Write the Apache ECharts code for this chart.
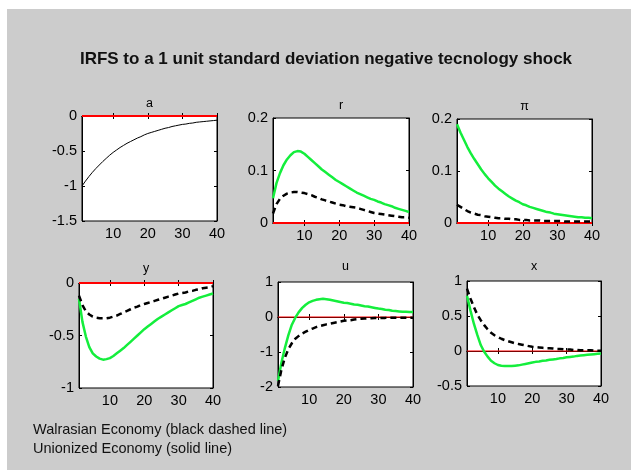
<!DOCTYPE html>
<html>
<head>
<meta charset="utf-8">
<script src="https://cdn.jsdelivr.net/npm/echarts@6/dist/echarts.min.js"></script>
<style>
  html, body { margin: 0; padding: 0; background: #fff; }
  #bg { position: absolute; left: 7px; top: 9px; width: 624px; height: 461px; background: #cccccc; }
  #main { position: absolute; left: 0; top: 0; width: 631px; height: 470px; }
</style>
</head>
<body>
<div id="bg"></div>
<div id="main"></div>
<script>
// horizon 1..40
const periods = [1, 2, 3, 4, 5, 6, 7, 8, 9, 10, 11, 12, 13, 14, 15, 16, 17, 18, 19, 20,
  21, 22, 23, 24, 25, 26, 27, 28, 29, 30, 31, 32, 33, 34, 35, 36, 37, 38, 39, 40];
const xTicks = [10, 20, 30, 40];

// a: technology shock
const aShock = [-1, -0.93, -0.865, -0.805, -0.75, -0.70, -0.65, -0.605, -0.56, -0.52,
  -0.485, -0.45, -0.42, -0.39, -0.365, -0.34, -0.315, -0.295, -0.27, -0.25,
  -0.235, -0.22, -0.205, -0.19, -0.175, -0.165, -0.15, -0.14, -0.13, -0.12,
  -0.115, -0.105, -0.1, -0.09, -0.085, -0.08, -0.075, -0.07, -0.065, -0.06];

// r
const rUnion = [0.047, 0.076, 0.095, 0.110, 0.121, 0.129, 0.135, 0.137, 0.136, 0.132,
  0.126, 0.120, 0.114, 0.108, 0.102, 0.097, 0.092, 0.087, 0.082, 0.078,
  0.074, 0.070, 0.066, 0.062, 0.058, 0.055, 0.052, 0.049, 0.046, 0.044,
  0.041, 0.039, 0.036, 0.034, 0.032, 0.029, 0.027, 0.025, 0.023, 0.021];
const rWalras = [0.018, 0.036, 0.046, 0.052, 0.056, 0.058, 0.059, 0.059, 0.058, 0.057,
  0.055, 0.053, 0.050, 0.048, 0.045, 0.043, 0.041, 0.039, 0.037, 0.035,
  0.034, 0.032, 0.031, 0.030, 0.029, 0.027, 0.025, 0.023, 0.021, 0.019,
  0.018, 0.017, 0.016, 0.015, 0.014, 0.013, 0.012, 0.011, 0.011, 0.010];

// pi
const piUnion = [0.190, 0.174, 0.160, 0.146, 0.134, 0.123, 0.113, 0.103, 0.094, 0.086,
  0.079, 0.072, 0.066, 0.061, 0.056, 0.051, 0.047, 0.043, 0.040, 0.036,
  0.034, 0.031, 0.029, 0.027, 0.025, 0.023, 0.021, 0.020, 0.018, 0.017,
  0.016, 0.015, 0.014, 0.013, 0.012, 0.011, 0.011, 0.010, 0.010, 0.009];
const piWalras = [0.035, 0.031, 0.027, 0.023, 0.020, 0.018, 0.016, 0.015, 0.013, 0.012,
  0.011, 0.010, 0.009, 0.009, 0.008, 0.008, 0.007, 0.007, 0.006, 0.006,
  0.006, 0.005, 0.005, 0.005, 0.005, 0.004, 0.004, 0.004, 0.004, 0.004,
  0.004, 0.003, 0.003, 0.003, 0.003, 0.003, 0.003, 0.003, 0.003, 0.003];

// y
const yUnion = [-0.15, -0.37, -0.51, -0.61, -0.67, -0.70, -0.72, -0.73, -0.725, -0.715,
  -0.695, -0.67, -0.645, -0.62, -0.59, -0.56, -0.53, -0.50, -0.47, -0.44,
  -0.415, -0.39, -0.365, -0.34, -0.32, -0.30, -0.28, -0.26, -0.24, -0.22,
  -0.21, -0.20, -0.185, -0.17, -0.155, -0.14, -0.13, -0.12, -0.11, -0.10];
const yWalras = [-0.12, -0.21, -0.27, -0.30, -0.32, -0.33, -0.335, -0.335, -0.335, -0.33,
  -0.32, -0.31, -0.295, -0.28, -0.265, -0.25, -0.235, -0.225, -0.21, -0.20,
  -0.19, -0.18, -0.17, -0.16, -0.15, -0.14, -0.13, -0.12, -0.11, -0.10,
  -0.095, -0.09, -0.08, -0.075, -0.065, -0.06, -0.05, -0.045, -0.04, -0.03];

// u
const uUnion = [-1.83, -1.30, -0.88, -0.52, -0.22, -0.02, 0.14, 0.26, 0.35, 0.42,
  0.46, 0.49, 0.51, 0.52, 0.51, 0.49, 0.47, 0.45, 0.43, 0.41,
  0.40, 0.38, 0.36, 0.35, 0.33, 0.31, 0.30, 0.28, 0.26, 0.24,
  0.23, 0.21, 0.20, 0.18, 0.17, 0.16, 0.15, 0.15, 0.14, 0.14];
const uWalras = [-1.97, -1.50, -1.16, -0.92, -0.75, -0.62, -0.54, -0.47, -0.42, -0.37,
  -0.33, -0.29, -0.26, -0.235, -0.21, -0.19, -0.17, -0.15, -0.13, -0.11,
  -0.10, -0.09, -0.07, -0.06, -0.05, -0.045, -0.04, -0.035, -0.03, -0.03,
  -0.025, -0.025, -0.02, -0.02, -0.02, -0.02, -0.02, -0.02, -0.02, -0.02];

// x
const xUnion = [0.79, 0.58, 0.39, 0.23, 0.085, -0.01, -0.08, -0.14, -0.175, -0.20,
  -0.21, -0.215, -0.215, -0.215, -0.21, -0.205, -0.195, -0.185, -0.175, -0.165,
  -0.155, -0.15, -0.14, -0.135, -0.125, -0.12, -0.115, -0.105, -0.1, -0.09,
  -0.085, -0.08, -0.07, -0.065, -0.06, -0.055, -0.05, -0.045, -0.04, -0.035];
const xWalras = [0.89, 0.75, 0.63, 0.52, 0.44, 0.37, 0.31, 0.26, 0.225, 0.20,
  0.175, 0.155, 0.14, 0.125, 0.11, 0.10, 0.09, 0.08, 0.07, 0.06,
  0.055, 0.05, 0.045, 0.04, 0.04, 0.035, 0.03, 0.03, 0.025, 0.02,
  0.02, 0.015, 0.015, 0.01, 0.01, 0.01, 0.01, 0.005, 0.005, 0.005];

const FONT = '"Liberation Sans", Arial, sans-serif';

const styles = {
  thin: { color: '#000', width: 1, type: 'solid' },
  green: { color: '#14ee3c', width: 2.5, type: 'solid' },
  dash: { color: '#000', width: 2.5, type: [6, 4] }
};

// box = [left, top, width, height], y = [min, max, interval]
const panels = [
  { title: 'a', gap: 6, box: [82, 116, 135, 105], y: [-1.5, 0, 0.5], lines: [[aShock, 'thin']] },
  { title: 'r', gap: 6, box: [273, 118, 136, 105], y: [0, 0.2, 0.1], lines: [[rUnion, 'green'], [rWalras, 'dash']] },
  { title: 'π', gap: 6, box: [457, 119, 135, 104], y: [0, 0.2, 0.1], lines: [[piUnion, 'green'], [piWalras, 'dash']] },
  { title: 'y', gap: 8, box: [79, 283, 134, 105], y: [-1, 0, 0.5], lines: [[yUnion, 'green'], [yWalras, 'dash']] },
  { title: 'u', gap: 9, box: [278, 282, 135, 105], y: [-2, 1, 1], lines: [[uUnion, 'green'], [uWalras, 'dash']] },
  { title: 'x', gap: 8, box: [467, 281, 134, 105], y: [-0.5, 1, 0.5], lines: [[xUnion, 'green'], [xWalras, 'dash']] }
];

const grid = [], xAxis = [], yAxis = [], series = [];
const tick = { inside: true, length: 3, lineStyle: { color: '#000', width: 1 } };
const labelFont = { color: '#000', fontSize: 14.5, fontFamily: FONT };

panels.forEach((p, i) => {
  grid.push({
    left: p.box[0], top: p.box[1], width: p.box[2], height: p.box[3],
    show: true, backgroundColor: '#fff', borderColor: '#000', borderWidth: 1
  });
  // bottom + top x axes
  xAxis.push({
    type: 'value', gridIndex: i, min: 1, max: 40, position: 'bottom',
    axisLine: { show: true, lineStyle: { color: '#000' } },
    axisTick: Object.assign({ customValues: xTicks }, tick),
    axisLabel: Object.assign({ customValues: xTicks, margin: 5 }, labelFont),
    splitLine: { show: false }
  });
  xAxis.push({
    type: 'value', gridIndex: i, min: 1, max: 40, position: 'top',
    name: p.title, nameLocation: 'middle', nameGap: p.gap,
    nameTextStyle: { color: '#000', fontSize: 12.5, fontFamily: FONT },
    axisLine: { show: true, lineStyle: { color: '#000' } },
    axisTick: Object.assign({ customValues: xTicks }, tick),
    axisLabel: { show: false },
    splitLine: { show: false }
  });
  // left + right y axes
  yAxis.push({
    type: 'value', gridIndex: i, min: p.y[0], max: p.y[1], interval: p.y[2], position: 'left',
    axisLine: { show: true, lineStyle: { color: '#000' } },
    axisTick: tick,
    axisLabel: Object.assign({ margin: 5 }, labelFont),
    splitLine: { show: false }
  });
  yAxis.push({
    type: 'value', gridIndex: i, min: p.y[0], max: p.y[1], interval: p.y[2], position: 'right',
    axisLine: { show: true, lineStyle: { color: '#000' } },
    axisTick: tick,
    axisLabel: { show: false },
    splitLine: { show: false }
  });

  // red zero line (thicker when it sits on the frame)
  const onEdge = p.y[0] === 0 || p.y[1] === 0;
  series.push({
    type: 'line', xAxisIndex: 2 * i, yAxisIndex: 2 * i,
    data: periods.map(t => [t, 0]),
    symbol: 'none', clip: false, silent: true,
    lineStyle: { color: '#ff0000', width: onEdge ? 2 : 1.2 }
  });
  p.lines.forEach(([vals, kind]) => {
    series.push({
      type: 'line', xAxisIndex: 2 * i, yAxisIndex: 2 * i,
      data: periods.map((t, k) => [t, vals[k]]),
      symbol: 'none', smooth: false, clip: true, silent: true,
      lineStyle: styles[kind]
    });
  });
});

const chart = echarts.init(document.getElementById('main'), null, { renderer: 'canvas' });
chart.setOption({
  animation: false,
  backgroundColor: 'transparent',
  grid, xAxis, yAxis, series,
  graphic: [
    {
      type: 'text', x: 326, y: 59,
      style: {
        text: 'IRFS to a 1 unit standard deviation negative tecnology shock',
        font: 'bold 17px ' + FONT, fill: '#111', align: 'center', verticalAlign: 'middle'
      }
    },
    {
      type: 'text', x: 33, y: 430,
      style: { text: 'Walrasian Economy (black dashed line)', font: '14.5px ' + FONT, fill: '#111', verticalAlign: 'middle' }
    },
    {
      type: 'text', x: 33, y: 449,
      style: { text: 'Unionized Economy (solid line)', font: '14.5px ' + FONT, fill: '#111', verticalAlign: 'middle' }
    }
  ]
});
</script>
</body>
</html>
